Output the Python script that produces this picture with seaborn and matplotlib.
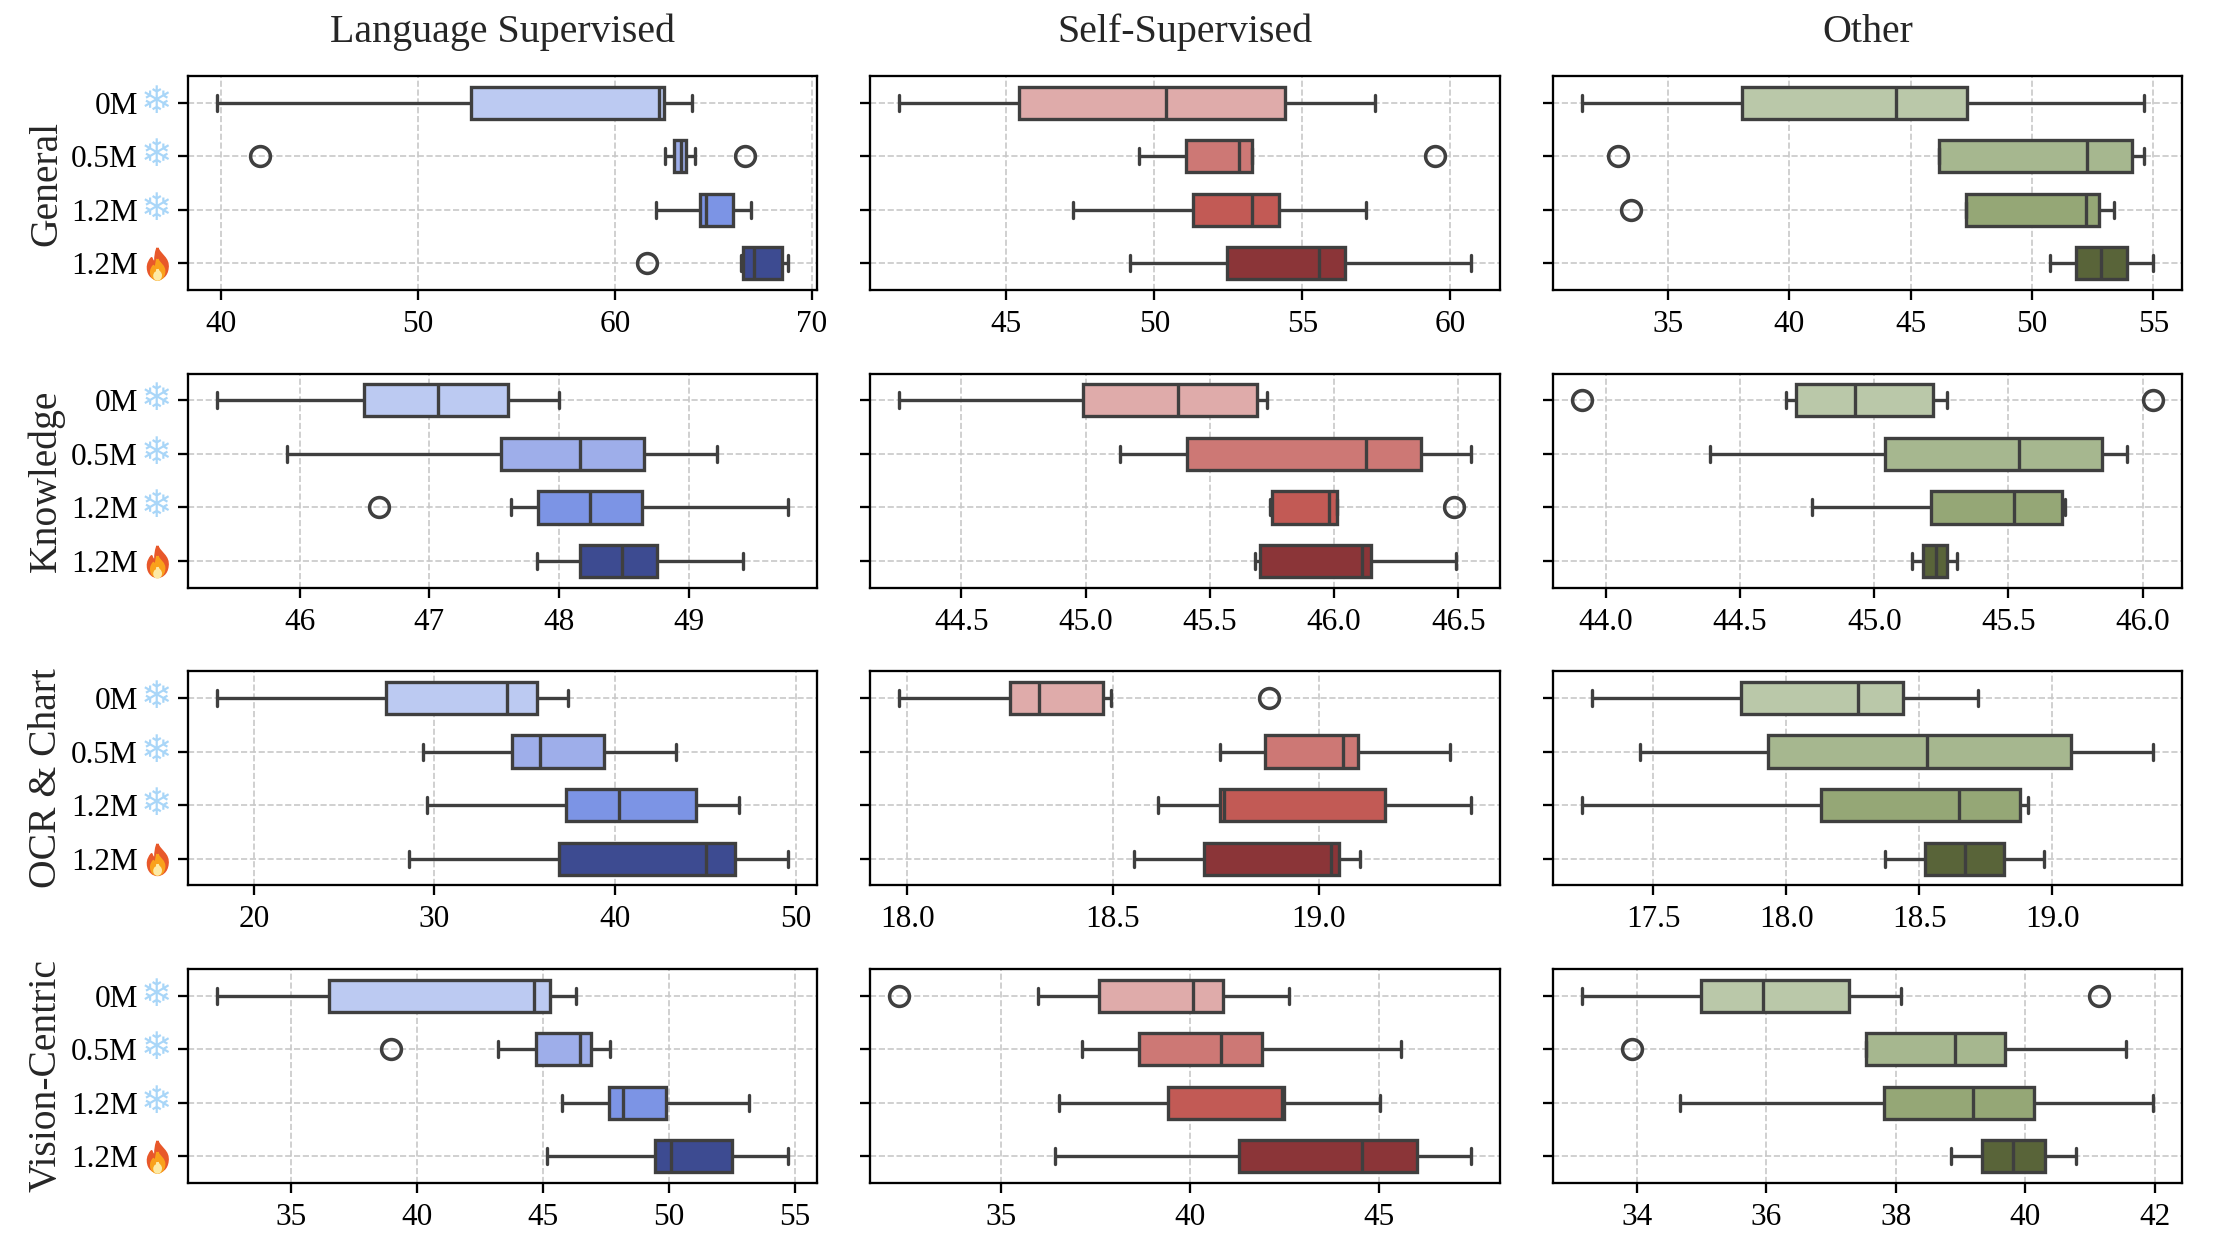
import pandas as pd
import matplotlib
matplotlib.use('Agg')
import matplotlib.pyplot as plt
from matplotlib.path import Path
import seaborn as sns

# Each row is one model: low outlier, whisker low, q1, median, q3, whisker high, high outlier
# (None = that box has no outlier on that side).
lang_general = [[None, 39.76, 52.7, 62.25, 62.5, 63.9, None],
                [41.97, 62.55, 63.0, 63.35, 63.6, 64.05, 66.6],
                [None, 62.05, 64.3, 64.6, 66.0, 66.9, None],
                [61.6, 66.4, 66.5, 67.05, 68.45, 68.8, None]]
self_general = [[None, 41.37, 45.42, 50.4, 54.42, 57.47, None],
                [None, 49.49, 51.06, 52.87, 53.29, 53.29, 59.5],
                [None, 47.24, 51.32, 53.29, 54.2, 57.17, None],
                [None, 49.18, 52.47, 55.57, 56.44, 60.7, None]]
other_general = [[None, 31.44, 38.03, 44.38, 47.31, 54.61, None],
                 [32.94, 46.18, 46.18, 52.27, 54.12, 54.61, None],
                 [33.47, 47.27, 47.27, 52.22, 52.75, 53.36, None],
                 [None, 50.74, 51.8, 52.83, 53.93, 55.0, None]]

lang_knowledge = [[None, 45.36, 46.5, 47.07, 47.61, 48.0, None],
                  [None, 45.9, 47.55, 48.16, 48.66, 49.22, None],
                  [46.61, 47.63, 47.84, 48.24, 48.64, 49.77, None],
                  [None, 47.83, 48.16, 48.49, 48.76, 49.42, None]]
self_knowledge = [[None, 44.25, 44.99, 45.37, 45.69, 45.73, None],
                  [None, 45.14, 45.41, 46.13, 46.35, 46.55, None],
                  [None, 45.74, 45.75, 45.98, 46.01, 46.01, 46.48],
                  [None, 45.68, 45.7, 46.11, 46.15, 46.49, None]]
other_knowledge = [[43.91, 44.67, 44.71, 44.93, 45.22, 45.27, 46.04],
                   [None, 44.39, 45.04, 45.54, 45.85, 45.94, None],
                   [None, 44.77, 45.21, 45.52, 45.70, 45.71, None],
                   [None, 45.14, 45.18, 45.23, 45.27, 45.31, None]]

lang_ocr = [[None, 17.94, 27.31, 34.0, 35.7, 37.38, None],
            [None, 29.34, 34.29, 35.85, 39.37, 43.39, None],
            [None, 29.58, 37.27, 40.2, 44.46, 46.84, None],
            [None, 28.59, 36.91, 45.02, 46.66, 49.59, None]]
self_ocr = [[None, 17.98, 18.25, 18.32, 18.475, 18.495, 18.88],
            [None, 18.76, 18.87, 19.06, 19.095, 19.32, None],
            [None, 18.61, 18.76, 18.77, 19.16, 19.37, None],
            [None, 18.55, 18.72, 19.03, 19.05, 19.1, None]]
other_ocr = [[None, 17.27, 17.83, 18.27, 18.44, 18.72, None],
             [None, 17.45, 17.93, 18.53, 19.07, 19.38, None],
             [None, 17.23, 18.13, 18.65, 18.88, 18.91, None],
             [None, 18.37, 18.52, 18.67, 18.82, 18.97, None]]

lang_vision = [[None, 32.03, 36.49, 44.66, 45.27, 46.29, None],
               [38.96, 43.2, 44.71, 46.45, 46.9, 47.67, None],
               [None, 45.76, 47.63, 48.17, 49.89, 53.2, None],
               [None, 45.14, 49.43, 50.09, 52.5, 54.75, None]]
self_vision = [[32.29, 35.96, 37.58, 40.09, 40.88, 42.63, None],
               [None, 37.13, 38.65, 40.82, 41.9, 45.59, None],
               [None, 36.52, 39.42, 42.44, 42.5, 45.05, None],
               [None, 36.43, 41.3, 44.56, 46.02, 47.45, None]]
other_vision = [[None, 33.15, 34.99, 35.95, 37.28, 38.08, 41.14],
                [33.93, 37.54, 37.54, 38.91, 39.69, 41.56, None],
                [None, 34.67, 37.82, 39.2, 40.14, 41.98, None],
                [None, 38.86, 39.34, 39.81, 40.31, 40.78, None]]

col_titles = ['Language Supervised', 'Self-Supervised', 'Other']
row_titles = ['General', 'Knowledge', 'OCR & Chart', 'Vision-Centric']
models = ['0M frozen', '0.5M frozen', '1.2M frozen', '1.2M trained']
model_labels = ['0M', '0.5M', '1.2M', '1.2M']
panels = [[lang_general, self_general, other_general],
          [lang_knowledge, self_knowledge, other_knowledge],
          [lang_ocr, self_ocr, other_ocr],
          [lang_vision, self_vision, other_vision]]
palettes = [['#bccaf2', '#9eaeea', '#7c94e5', '#3d4b91'],
            ['#dfabaa', '#cd7875', '#c25a55', '#8b3538'],
            ['#bac8a9', '#a6b78f', '#95a776', '#596439']]
x_ticks = [[[40, 50, 60, 70], [45, 50, 55, 60], [35, 40, 45, 50, 55]],
           [[46, 47, 48, 49], [44.5, 45, 45.5, 46, 46.5], [44, 44.5, 45, 45.5, 46]],
           [[20, 30, 40, 50], [18, 18.5, 19], [17.5, 18, 18.5, 19]],
           [[35, 40, 45, 50, 55], [35, 40, 45], [34, 36, 38, 40, 42]]]


def to_samples(rows):
    # nine points per model, so that numpy's quartiles land exactly on the summary values
    records = []
    for model, (fl_lo, lo, q1, med, q3, hi, fl_hi) in zip(models, rows):
        points = [lo if fl_lo is None else fl_lo, lo, q1, med, med, q3, q3, hi,
                  hi if fl_hi is None else fl_hi]
        records += [{'model': model, 'score': p} for p in points]
    return pd.DataFrame(records)


# no emoji font here, so the flame is a small drawn marker
flame = Path([(0.0, 1.0), (0.15, 0.55), (0.75, 0.35), (0.65, -0.3), (0.6, -0.8), (0.25, -1.0), (0.0, -1.0),
              (-0.25, -1.0), (-0.6, -0.8), (-0.62, -0.3), (-0.64, 0.0), (-0.5, 0.2), (-0.38, 0.35),
              (-0.3, 0.15), (-0.25, 0.05), (-0.15, 0.1), (-0.15, 0.5), (-0.1, 0.8), (0.0, 1.0)],
             [Path.MOVETO] + [Path.CURVE4] * 18)

sns.set_theme(style='ticks')
plt.rcParams['font.family'] = ['Liberation Serif', 'DejaVu Sans']

fig, axes = plt.subplots(4, 3, figsize=(14.8, 8.36), dpi=150)
fig.subplots_adjust(left=188 / 2220, right=2182 / 2220, top=1 - 76 / 1254, bottom=1 - 1183 / 1254,
                    wspace=0.085, hspace=0.39)

for r, row_panels in enumerate(panels):
    for c, rows in enumerate(row_panels):
        ax = axes[r, c]
        sns.boxplot(data=to_samples(rows), x='score', y='model', hue='model', order=models, hue_order=models,
                    palette=palettes[c], saturation=1, width=0.6, linewidth=1.6, linecolor='#3f3f3f',
                    fliersize=9.5, flierprops={'markeredgewidth': 1.7}, legend=False, ax=ax)
        ax.set_xticks(x_ticks[r][c])
        ax.grid(True, linestyle='--', linewidth=0.8, color='#c8c8c8')
        ax.set_axisbelow(True)
        ax.set_xlabel('')
        ax.set_ylabel('')
        ax.tick_params(axis='both', labelsize=15, length=5, width=1.1, color='black', labelcolor='black')
        ax.tick_params(axis='x', pad=4.5)
        for spine in ax.spines.values():
            spine.set_visible(True)
            spine.set_color('black')
            spine.set_linewidth(1.1)
        if c == 0:
            ax.set_yticks(range(4))
            ax.set_yticklabels(model_labels)
            ax.tick_params(axis='y', pad=19)
            ax.set_ylabel(row_titles[r], fontsize=19, labelpad=3)
            trans = ax.get_yaxis_transform()
            for y in range(3):
                ax.text(-0.05, y, '\u2744', transform=trans, family='DejaVu Sans', fontsize=18, color='#a9d6f8',
                        ha='center', va='center', clip_on=False)
            ax.plot([-0.05], [3], marker=flame, markersize=15, color='#e8582a', linestyle='none', transform=trans,
                    clip_on=False, scalex=False, scaley=False)
            ax.plot([-0.05], [3.1], marker=flame, markersize=10, color='#f9a11b', linestyle='none', transform=trans,
                    clip_on=False, scalex=False, scaley=False)
            ax.plot([-0.05], [3.2], marker=flame, markersize=5, color='#fdeaa5', linestyle='none', transform=trans,
                    clip_on=False, scalex=False, scaley=False)
        else:
            ax.set_yticks(range(4))
            ax.set_yticklabels([])
        if r == 0:
            ax.set_title(col_titles[c], fontsize=19.2, pad=16.5)

fig.savefig('out.png', dpi=150)
